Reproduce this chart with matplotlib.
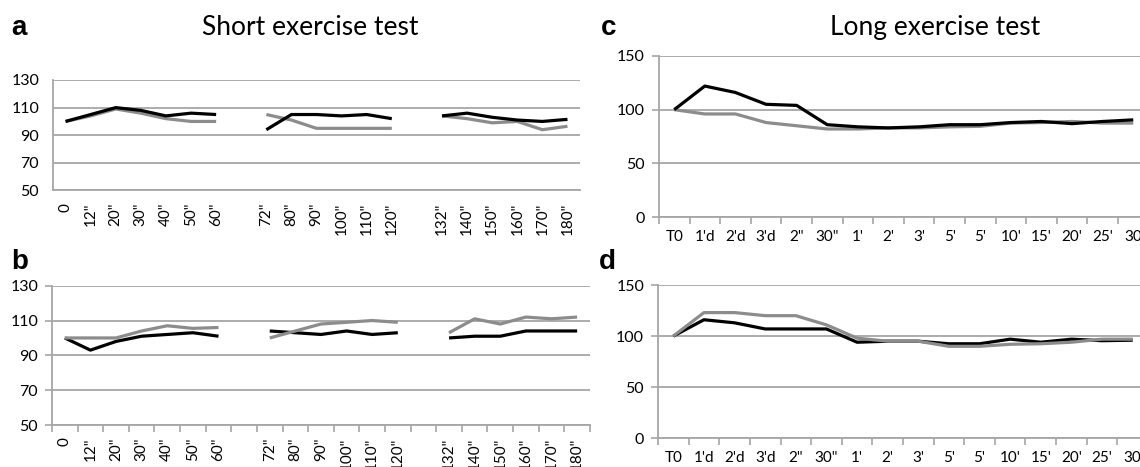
import numpy as np
import matplotlib
matplotlib.use("Agg")
import matplotlib.pyplot as plt

nan = np.nan

short_labels = ['0', '12"', '20"', '30"', '40"', '50"', '60"', '',
                '72"', '80"', '90"', '100"', '110"', '120"', '',
                '132"', '140"', '150"', '160"', '170"', '180"']
long_labels = ["T0", "1'd", "2'd", "3'd", '2"', '30"', "1'", "2'", "3'",
               "5'", "5'", "10'", "15'", "20'", "25'", "30"]

a_black = [100, 105, 110, 108, 104, 106, 105, nan, 94, 105, 105, 104, 105, 102,
           nan, 104, 106, 103, 101, 100, 101.5]
a_gray = [100, 104, 109, 106, 102, 100, 100, nan, 105, 101, 95, 95, 95, 95,
          nan, 104, 102, 99, 100, 94, 96.5]
b_black = [100, 93, 98, 101, 102, 103, 101, nan, 104, 103, 102, 104, 102, 103,
           nan, 100, 101, 101, 104, 104, 104]
b_gray = [100, 100, 100, 104, 107, 105.5, 106, nan, 100, 104, 108, 109, 110, 109,
          nan, 103, 111, 108, 112, 111, 112]
c_black = [100, 122, 116, 105, 104, 86, 84, 83, 84, 86, 86, 88, 89, 87, 89, 90.5]
c_gray = [100, 96, 96, 88, 85, 82, 82, 83, 83, 84, 84.5, 87.5, 88, 89, 87.5, 87.5]
d_black = [100, 116, 113, 107, 107, 107, 94, 95, 95, 92.5, 92.5, 97, 94, 97, 95.5, 96]
d_gray = [100, 123, 123, 120, 120, 111, 98, 95, 95, 90, 90, 92, 92.5, 94, 97, 97]

short_yticks = [50, 70, 90, 110, 130]
long_yticks = [0, 50, 100, 150]

BLACK = "#000000"
GRAY = "#8c8c8c"
GRID = "#a6a6a6"
FONT = "Lato"

plt.rcParams['font.family'] = [FONT, 'DejaVu Sans']

fig = plt.figure(figsize=(11.4, 4.67), dpi=100)


def make_axes(rect, labels, yticks, ylim, rot, ticks_visible, black, gray, gray_on_top):
    ax = fig.add_axes(rect)
    n = len(labels)
    x = np.arange(n)
    zb, zg = (3, 2) if not gray_on_top else (2, 3)
    ax.plot(x, black, color=BLACK, lw=2.3, solid_joinstyle='round',
            solid_capstyle='butt', zorder=zb)
    ax.plot(x, gray, color=GRAY, lw=2.3, solid_joinstyle='round',
            solid_capstyle='butt', zorder=zg)
    ax.set_xlim(-0.5, n - 0.5)
    ax.set_ylim(*ylim)
    ax.set_yticks(yticks)
    ax.set_xticks(x)
    ax.set_xticklabels(labels, rotation=rot, fontsize=11)
    ax.tick_params(axis='x', length=0, pad=9)
    ax.set_xticks(np.arange(-0.5, n, 1.0), minor=True)
    if ticks_visible:
        ax.tick_params(axis='x', which='minor', length=5, color=GRID, width=1.2)
        ax.tick_params(axis='y', length=5, color=GRID, width=1.2, pad=5)
    else:
        ax.tick_params(axis='x', which='minor', length=0)
        ax.tick_params(axis='y', length=0, pad=10)
    ax.tick_params(axis='y', labelsize=11.5)
    ax.yaxis.grid(True, color=GRID, lw=1.3)
    ax.set_axisbelow(True)
    for s in ['top', 'right']:
        ax.spines[s].set_visible(False)
    ax.spines['left'].set_color(GRID)
    ax.spines['left'].set_linewidth(1.3)
    ax.spines['bottom'].set_color(GRID)
    ax.spines['bottom'].set_linewidth(1.3)
    return ax


make_axes([0.0465, 0.5921, 0.4623, 0.2366], short_labels, short_yticks, (50, 130), 90,
          False, a_black, a_gray, False)
make_axes([0.0456, 0.0899, 0.4719, 0.2983], short_labels, short_yticks, (50, 130), 90,
          True, b_black, b_gray, True)
make_axes([0.578, 0.5353, 0.4295, 0.3448], long_labels, long_yticks, (0, 150), 0,
          True, c_black, c_gray, False)
make_axes([0.5772, 0.0615, 0.4298, 0.3282], long_labels, long_yticks, (0, 150), 0,
          True, d_black, d_gray, True)

fig.text(0.272, 0.942, "Short exercise test", ha='center', va='center', fontsize=19)
fig.text(0.820, 0.942, "Long exercise test", ha='center', va='center', fontsize=19)

for (xx, yy, t) in [(0.0096, 0.94, 'a'), (0.0096, 0.44, 'b'),
                    (0.527, 0.94, 'c'), (0.525, 0.44, 'd')]:
    fig.text(xx, yy, t, ha='left', va='center', fontsize=20, fontweight='bold',
             family=['Liberation Sans', 'DejaVu Sans'])

fig.savefig("out.png", dpi=100)
